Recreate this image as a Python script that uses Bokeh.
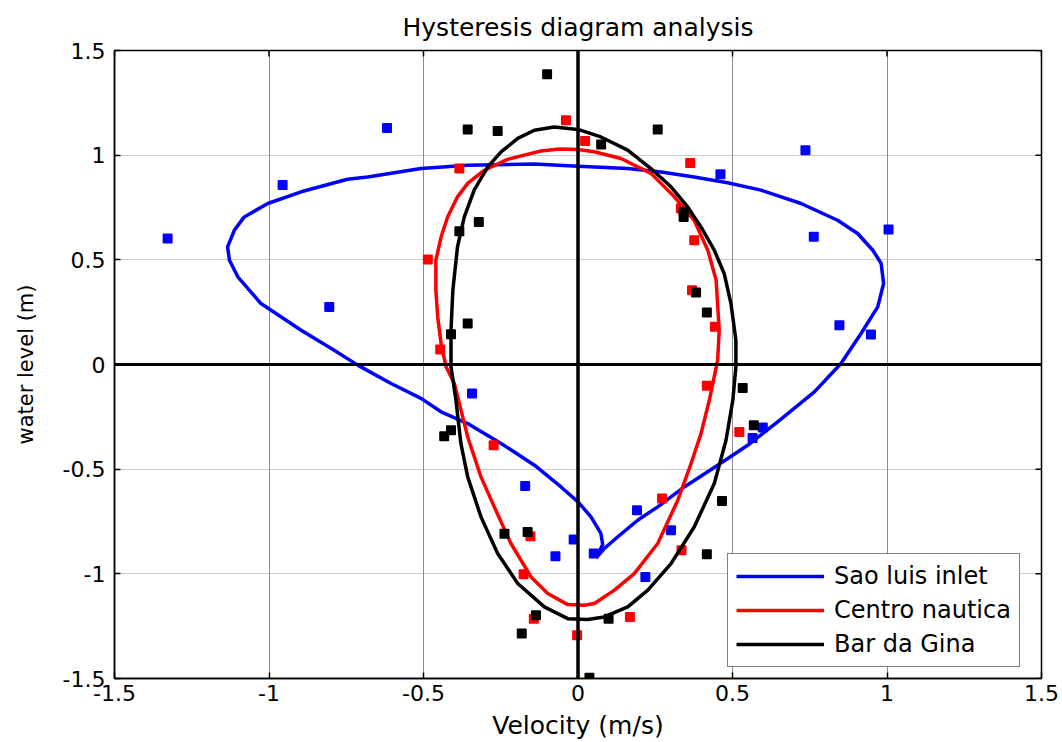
import math
from bokeh.plotting import figure
from bokeh.models import Span, FixedTicker, Legend, LegendItem, Range1d
from bokeh.embed import file_html
from bokeh.resources import INLINE

FONT = "DejaVu Sans"

# ---------------- data ----------------
title_text = "Hysteresis diagram analysis"
tick_values = [-1.5, -1, -0.5, 0, 0.5, 1, 1.5]
tick_labels = ["-1.5", "-1", "-0.5", "0", "0.5", "1", "1.5"]

series_names = ["Sao luis inlet", "Centro nautica", "Bar da Gina"]
series_colors = ["#0000ff", "#ff0000", "#000000"]

# fitted hysteresis curves (velocity m/s, water level m)
sao_curve_v = [0.058, 0.085, 0.128, 0.193, 0.258, 0.344, 0.452, 0.549, 0.646, 0.765, 0.851, 0.916, 0.970, 0.989,
               0.981, 0.954, 0.905, 0.840, 0.722, 0.592, 0.484, 0.376, 0.269, 0.161, 0.0, -0.141, -0.357, -0.508,
               -0.681, -0.746, -0.896, -1.004, -1.080, -1.112, -1.134, -1.128, -1.101, -1.026, -0.896, -0.789,
               -0.713, -0.605, -0.508, -0.443, -0.357, -0.249, -0.141, -0.055, 0.0, 0.042, 0.074, 0.080, 0.058]
sao_curve_h = [-0.925, -0.879, -0.824, -0.744, -0.680, -0.585, -0.481, -0.386, -0.274, -0.131, 0.005, 0.148, 0.275,
               0.387, 0.483, 0.546, 0.626, 0.689, 0.769, 0.833, 0.868, 0.896, 0.920, 0.936, 0.947, 0.958, 0.952,
               0.936, 0.896, 0.885, 0.825, 0.769, 0.705, 0.642, 0.562, 0.498, 0.419, 0.291, 0.164, 0.068, -0.003,
               -0.091, -0.162, -0.226, -0.282, -0.377, -0.481, -0.585, -0.656, -0.728, -0.807, -0.860, -0.925]

centro_curve_v = [0.0, -0.060, -0.120, -0.174, -0.228, -0.303, -0.357, -0.390, -0.422, -0.443, -0.460, -0.460,
                  -0.454, -0.443, -0.427, -0.400, -0.357, -0.314, -0.271, -0.217, -0.152, -0.098, -0.033, 0.020,
                  0.053, 0.118, 0.182, 0.258, 0.323, 0.366, 0.398, 0.425, 0.452, 0.457, 0.447, 0.420, 0.376,
                  0.312, 0.236, 0.139, 0.053, 0.0]
centro_curve_h = [1.027, 1.030, 1.020, 1.000, 0.980, 0.928, 0.865, 0.801, 0.705, 0.610, 0.498, 0.355, 0.227,
                  0.100, -0.011, -0.091, -0.346, -0.537, -0.680, -0.855, -1.015, -1.094, -1.147, -1.150, -1.142,
                  -1.078, -0.999, -0.855, -0.648, -0.473, -0.330, -0.171, 0.021, 0.164, 0.403, 0.546, 0.689,
                  0.801, 0.913, 0.984, 1.016, 1.027]

bar_curve_v = [0.0, -0.077, -0.141, -0.195, -0.249, -0.292, -0.336, -0.368, -0.390, -0.405, -0.411, -0.411,
               -0.395, -0.379, -0.357, -0.314, -0.260, -0.195, -0.109, -0.033, 0.031, 0.085, 0.161, 0.226, 0.301,
               0.376, 0.441, 0.479, 0.501, 0.511, 0.511, 0.495, 0.473, 0.441, 0.398, 0.355, 0.301, 0.236, 0.161,
               0.074, 0.0]
bar_curve_h = [1.123, 1.135, 1.119, 1.080, 1.016, 0.944, 0.833, 0.705, 0.562, 0.355, 0.164, -0.011, -0.171,
               -0.377, -0.537, -0.728, -0.903, -1.046, -1.158, -1.214, -1.218, -1.206, -1.158, -1.078, -0.951,
               -0.776, -0.569, -0.362, -0.171, -0.011, 0.116, 0.291, 0.435, 0.546, 0.657, 0.753, 0.849, 0.936,
               1.024, 1.087, 1.123]

# measured points
sao_obs_v = [-1.328, -0.956, -0.618, -0.805, -0.343, -0.171, -0.014, -0.073, 0.051, 0.191, 0.301, 0.218,
             0.598, 0.565, 0.846, 0.948, 1.005, 0.763, 0.736, 0.461]
sao_obs_h = [0.602, 0.857, 1.130, 0.275, -0.139, -0.580, -0.836, -0.916, -0.903, -0.696, -0.792, -1.015,
             -0.301, -0.351, 0.188, 0.143, 0.645, 0.610, 1.024, 0.909]

centro_obs_v = [-0.384, -0.039, 0.023, -0.486, -0.446, 0.363, 0.333, 0.376, 0.369, 0.443, -0.273, -0.154,
                -0.176, -0.143, -0.003, 0.417, 0.522, 0.272, 0.335, 0.168]
centro_obs_h = [0.936, 1.167, 1.068, 0.502, 0.072, 0.963, 0.745, 0.594, 0.355, 0.180, -0.386, -0.820,
                -1.002, -1.214, -1.293, -0.102, -0.322, -0.640, -0.887, -1.206]

bar_obs_v = [-0.100, -0.357, -0.260, 0.075, -0.321, -0.384, -0.357, -0.411, 0.258, 0.342, 0.342, 0.382,
             0.417, -0.433, -0.411, -0.238, -0.163, -0.136, -0.182, 0.037, 0.533, 0.569, 0.466, 0.417, 0.099]
bar_obs_h = [1.386, 1.123, 1.115, 1.051, 0.681, 0.637, 0.196, 0.145, 1.123, 0.729, 0.705, 0.344,
             0.248, -0.343, -0.314, -0.808, -0.800, -1.198, -1.285, -1.497, -0.112, -0.290, -0.652, -0.906, -1.214]

curves = [(sao_curve_v, sao_curve_h), (centro_curve_v, centro_curve_h), (bar_curve_v, bar_curve_h)]
observations = [(sao_obs_v, sao_obs_h), (centro_obs_v, centro_obs_h), (bar_obs_v, bar_obs_h)]

x_lo, x_hi = tick_values[0], tick_values[-1]
y_lo, y_hi = tick_values[0], tick_values[-1]

# ---------------- figure ----------------
p = figure(width=1062, height=742, output_backend="svg", toolbar_location=None,
           x_range=Range1d(x_lo, x_hi), y_range=Range1d(y_lo, y_hi),
           min_border_left=114, min_border_right=21, min_border_top=50, min_border_bottom=63,
           background_fill_color="white", border_fill_color="white")

p.title.text = title_text
p.title.align = "center"
p.title.text_font = FONT
p.title.text_font_size = "25px"
p.title.text_font_style = "normal"
p.title.text_color = "black"
p.title.standoff = 18

p.outline_line_color = "black"
p.outline_line_width = 1.5

label_map = dict(zip(tick_values, tick_labels))

for ax in (p.xaxis[0], p.yaxis[0]):
    ax.ticker = FixedTicker(ticks=tick_values)
    ax.major_label_overrides = label_map
    ax.major_tick_in = 6
    ax.major_tick_out = 0
    ax.minor_tick_line_color = None
    ax.axis_line_color = "black"
    ax.axis_line_width = 1.5
    ax.major_tick_line_color = "black"
    ax.major_tick_line_width = 1.5
    ax.major_label_text_font = FONT
    ax.major_label_text_color = "black"
    ax.major_label_text_font_size = "22px"
    ax.axis_label_text_font = FONT
    ax.axis_label_text_font_style = "normal"
    ax.axis_label_text_color = "black"

p.xaxis[0].axis_label = "Velocity (m/s)"
p.yaxis[0].axis_label = "water level (m)"
p.xaxis[0].major_label_standoff = 6
p.yaxis[0].major_label_standoff = 9
p.xaxis[0].axis_label_text_font_size = "25px"
p.yaxis[0].axis_label_text_font_size = "21px"
p.xaxis[0].axis_label_standoff = 7
p.yaxis[0].axis_label_standoff = 22

# inward tick marks on the top and right edges of the box
p.ray(x=tick_values, y=[y_hi] * len(tick_values), length=6, length_units="screen",
      angle=-math.pi / 2, line_color="black", line_width=1.5)
p.ray(x=[x_hi] * len(tick_values), y=tick_values, length=6, length_units="screen",
      angle=math.pi, line_color="black", line_width=1.5)

p.xgrid.ticker = FixedTicker(ticks=tick_values)
p.ygrid.ticker = FixedTicker(ticks=tick_values)
p.xgrid.grid_line_color = "#8c8c8c"
p.xgrid.grid_line_width = 1
p.ygrid.grid_line_color = "#9a9a9a"
p.ygrid.grid_line_dash = "1 1"
p.ygrid.grid_line_width = 1

p.add_layout(Span(location=0, dimension="height", line_color="black", line_width=3.5))
p.add_layout(Span(location=0, dimension="width", line_color="black", line_width=3))

items = []
for (cv, ch), (ov, oh), name, col in zip(curves, observations, series_names, series_colors):
    r = p.line(cv, ch, line_color=col, line_width=3.5, line_join="round")
    p.scatter(ov, oh, marker="square", size=8, fill_color=col, line_color=col,
              line_width=2, line_join="round")
    items.append(LegendItem(label=name, renderers=[r]))

legend = Legend(items=items, location=(613, 11), margin=0, padding=8,
                glyph_width=88, glyph_height=28, label_height=28, spacing=6, label_standoff=10,
                label_text_font=FONT, label_text_font_size="24px", label_text_color="black",
                border_line_color="black", border_line_width=1.2,
                background_fill_color="white", background_fill_alpha=1.0)
p.add_layout(legend, "center")

open("out.html", "w").write(file_html(p, INLINE))
